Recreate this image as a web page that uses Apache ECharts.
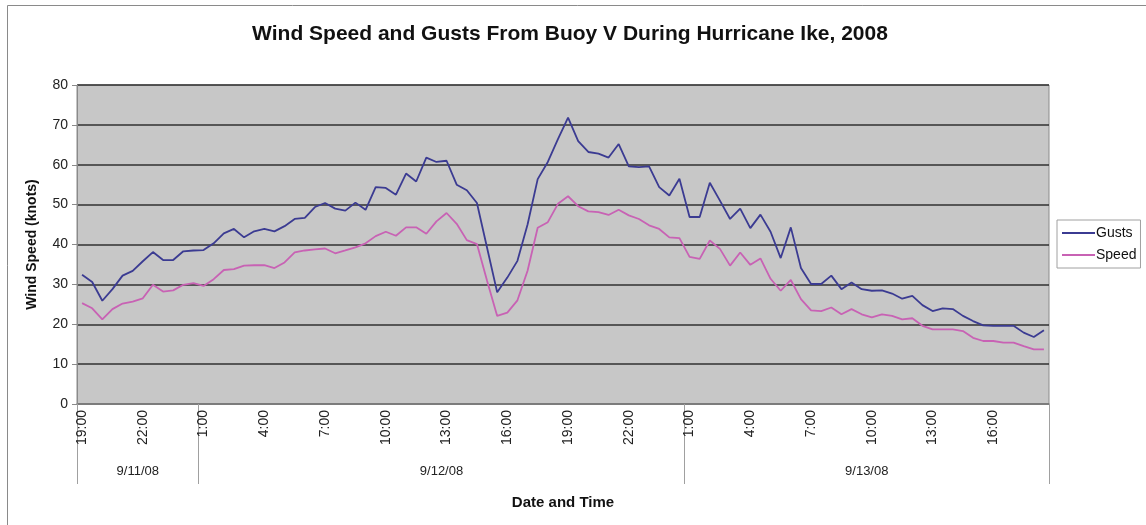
<!DOCTYPE html>
<html>
<head>
<meta charset="utf-8">
<script src="https://cdn.jsdelivr.net/npm/echarts@6/dist/echarts.min.js"></script>
<style>html,body{margin:0;padding:0;background:#fff;}#c{width:1146px;height:525px;}</style>
</head>
<body>
<div id="c"></div>
<script>
// Half-hourly observations starting 19:00 on 9/11/08
const startHour = 19;
const timeLabels = [];
for (let i = 0; i < 96; i++) {
  const h = (startHour + Math.floor(i / 2)) % 24;
  timeLabels.push(h + ':' + (i % 2 ? '30' : '00'));
}
const dateLabels = ['9/11/08', '9/12/08', '9/13/08'];
const dateGroupSizes = [12, 48, 36];

const gusts = [
  32.4, 30.6, 25.9, 28.8, 32.2, 33.4, 35.8, 38.1, 36.1, 36.1, 38.3, 38.5,
  38.6, 40.3, 42.8, 43.9, 41.8, 43.3, 43.9, 43.3, 44.6, 46.4, 46.7, 49.4,
  50.4, 49.0, 48.5, 50.5, 48.7, 54.4, 54.2, 52.5, 57.8, 55.8, 61.8, 60.7,
  61.0, 55.0, 53.6, 50.4, 39.2, 28.0, 31.7, 35.9, 45.0, 56.4, 60.7, 66.4,
  71.8, 65.9, 63.2, 62.8, 61.8, 65.2, 59.6, 59.4, 59.6, 54.4, 52.3, 56.5,
  46.9, 46.9, 55.5, 51.0, 46.4, 49.0, 44.1, 47.5, 43.2, 36.6, 44.3, 34.1,
  30.1, 30.1, 32.2, 28.8, 30.5, 28.8, 28.4, 28.5, 27.7, 26.4, 27.1, 24.8,
  23.3, 24.0, 23.8, 22.1, 20.8, 19.7, 19.6, 19.6, 19.6, 17.9, 16.8, 18.5
];
const speed = [
  25.3, 24.0, 21.2, 23.8, 25.2, 25.7, 26.5, 29.9, 28.2, 28.5, 29.9, 30.3,
  29.6, 31.3, 33.6, 33.8, 34.7, 34.8, 34.8, 34.1, 35.5, 38.0, 38.5, 38.8,
  39.0, 37.8, 38.5, 39.3, 40.3, 42.1, 43.2, 42.2, 44.3, 44.3, 42.7, 45.8,
  47.9, 45.2, 41.1, 40.1, 30.9, 22.1, 22.9, 26.0, 33.4, 44.2, 45.6, 50.2,
  52.1, 49.6, 48.3, 48.1, 47.4, 48.7, 47.3, 46.4, 44.8, 43.9, 41.8, 41.6,
  36.9, 36.4, 41.0, 38.9, 34.7, 38.0, 34.9, 36.5, 31.4, 28.4, 31.1, 26.3,
  23.5, 23.3, 24.2, 22.5, 23.8, 22.5, 21.7, 22.5, 22.1, 21.2, 21.5, 19.6,
  18.7, 18.7, 18.7, 18.3, 16.6, 15.8, 15.8, 15.4, 15.4, 14.5, 13.7, 13.7
];
const yTicks = [0, 10, 20, 30, 40, 50, 60, 70, 80];

// derived group boundaries and centers
const bounds = [0];
const centers = [];
dateGroupSizes.forEach(function (s) {
  const b = bounds[bounds.length - 1];
  centers.push(b + s / 2);
  bounds.push(b + s);
});
const centerMap = {};
centers.forEach(function (c, i) { centerMap[c] = dateLabels[i]; });

const font = '"Liberation Sans", Arial, sans-serif';
const chart = echarts.init(document.getElementById('c'), null, {renderer: 'canvas'});
chart.setOption({
  animation: false,
  backgroundColor: '#ffffff',
  graphic: [{
    type: 'rect', shape: {x: 7.5, y: 5.5, width: 1160, height: 540},
    style: {fill: 'none', stroke: '#8a8a8a', lineWidth: 1}, z: -1
  }],
  title: {
    text: 'Wind Speed and Gusts From Buoy V During Hurricane Ike, 2008',
    left: 565, top: 19, textAlign: 'center',
    textStyle: {fontFamily: font, fontSize: 21, fontWeight: 'bold', color: '#111'}
  },
  legend: {
    orient: 'vertical', left: 1057, top: 220,
    itemWidth: 33, itemHeight: 2, itemGap: 8, icon: 'rect',
    borderColor: '#a0a0a0', borderWidth: 1, padding: [6, 4, 6, 5],
    textStyle: {fontFamily: font, fontSize: 14, color: '#111', padding: [0, 0, 0, -4]},
    data: ['Gusts', 'Speed']
  },
  grid: {
    left: 77, right: 97, top: 85, bottom: 121,
    show: true, backgroundColor: '#c7c7c7', borderColor: '#8a8a8a', borderWidth: 1
  },
  xAxis: [{
    type: 'category', data: timeLabels, boundaryGap: true,
    axisLine: {lineStyle: {color: '#8a8a8a', width: 1.5}},
    axisTick: {show: false},
    axisLabel: {
      interval: 5, rotate: 90, margin: 6,
      fontFamily: font, fontSize: 14, color: '#222'
    },
    splitLine: {show: false}
  }, {
    type: 'value', min: 0, max: 96, position: 'bottom',
    axisLine: {show: false},
    axisTick: {show: true, customValues: bounds, length: 80, lineStyle: {color: '#a0a0a0', width: 1}},
    axisLabel: {
      show: true, customValues: centers, margin: 61,
      formatter: function (v) { return centerMap[v] || ''; },
      fontFamily: font, fontSize: 13, color: '#222'
    },
    splitLine: {show: false},
    name: 'Date and Time', nameLocation: 'middle', nameGap: 91,
    nameTextStyle: {fontFamily: font, fontSize: 15, fontWeight: 'bold', color: '#111'}
  }],
  yAxis: {
    type: 'value', min: yTicks[0], max: yTicks[yTicks.length - 1], interval: 10,
    axisLine: {show: true, lineStyle: {color: '#8a8a8a'}},
    axisTick: {show: true, length: 5, lineStyle: {color: '#8a8a8a'}},
    axisLabel: {margin: 9, fontFamily: font, fontSize: 14, color: '#222'},
    splitLine: {lineStyle: {color: '#303030', width: 1.5}},
    name: 'Wind Speed (knots)', nameLocation: 'middle', nameGap: 38,
    nameTextStyle: {fontFamily: font, fontSize: 14, fontWeight: 'bold', color: '#111'}
  },
  series: [{
    name: 'Gusts', type: 'line', data: gusts, xAxisIndex: 0,
    symbol: 'none', lineStyle: {color: '#3b3b92', width: 1.8},
    itemStyle: {color: '#3b3b92'}
  }, {
    name: 'Speed', type: 'line', data: speed, xAxisIndex: 0,
    symbol: 'none', lineStyle: {color: '#c862b4', width: 1.8},
    itemStyle: {color: '#c862b4'}
  }]
});
</script>
</body>
</html>
